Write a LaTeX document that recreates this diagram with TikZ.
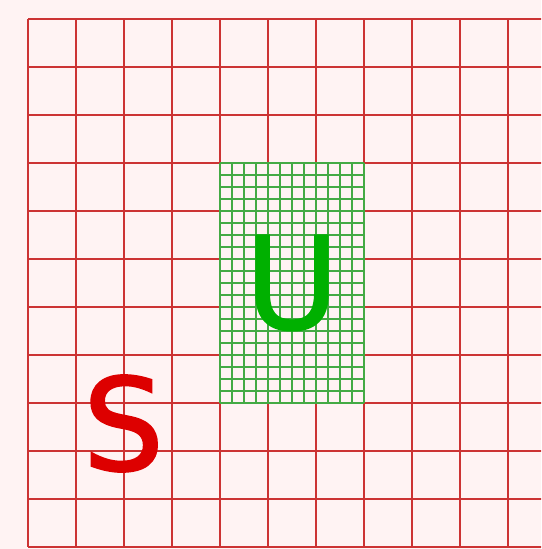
\documentclass[tikz,border=0pt]{standalone}
\usepackage{fontspec}
\setmainfont{DejaVu Sans}
\newfontfamily\letterfont{DejaVu Sans}[FakeBold=1.5]
\definecolor{bgpink}{HTML}{FFF3F3}
\definecolor{gridred}{HTML}{CC3333}
\definecolor{gridgreen}{HTML}{44AA44}
\definecolor{txtred}{HTML}{DD0000}
\definecolor{txtgreen}{HTML}{00B000}
\tikzset{
  redgrid/.style={draw=gridred, line width=1.3pt},
  greengrid/.style={draw=gridgreen, line width=1.2pt},
  bigletter/.style={inner sep=0pt, font=\letterfont\fontsize{128}{128}\selectfont}
}
\begin{document}
\begin{tikzpicture}[x=1pt,y=-1pt]
\fill[bgpink] (0,0) rectangle (541,549);
\useasboundingbox (0,0) rectangle (541,549);
\begin{scope}
\clip (0,0) rectangle (541,549);
\foreach \x in {28,76,...,556} \draw[redgrid] (\x,19) -- (\x,547);
\foreach \y in {19,67,...,547} \draw[redgrid] (28,\y) -- (560,\y);
\fill[bgpink] (220,163) rectangle (364,403);
\foreach \x in {220,232,...,364} \draw[greengrid] (\x,163) -- (\x,403);
\foreach \y in {163,175,...,403} \draw[greengrid] (220,\y) -- (364,\y);
\end{scope}
\node[bigletter, text=txtred] (s) at (123.5,423.5) {S};
\node[bigletter, text=txtgreen] (u) at (292,283) {U};
\end{tikzpicture}
\end{document}
